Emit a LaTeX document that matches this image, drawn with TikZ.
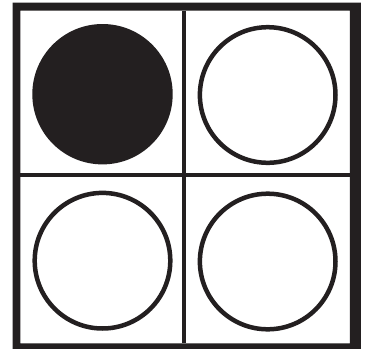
\documentclass[tikz,border=0pt]{standalone}
\definecolor{ink}{HTML}{231F20}
\begin{document}
\begin{tikzpicture}[x=1pt,y=-1pt,
  ring/.style={draw=ink,line width=4.5pt,fill=white},
  disc/.style={fill=ink},
  divider/.style={draw=ink,line width=4pt}]
\useasboundingbox (0,0) rectangle (368,349);
\fill[white] (0,0) rectangle (368,349);
% outer frame
\fill[ink,even odd rule] (12.7,2.7) rectangle (361,352) (20.5,10.5) rectangle (350,343.3);
% dividers
\draw[divider] (184,10.5) -- (184,343.3);
\draw[divider] (20.5,175.3) -- (350,175.3);
% circles
\fill[disc] (102.5,94.2) circle[radius=70.2];
\draw[ring] (267.7,95) circle[radius=67.8];
\draw[ring] (102.5,260.7) circle[radius=67.8];
\draw[ring] (267.7,261.5) circle[radius=67.8];
\end{tikzpicture}
\end{document}
